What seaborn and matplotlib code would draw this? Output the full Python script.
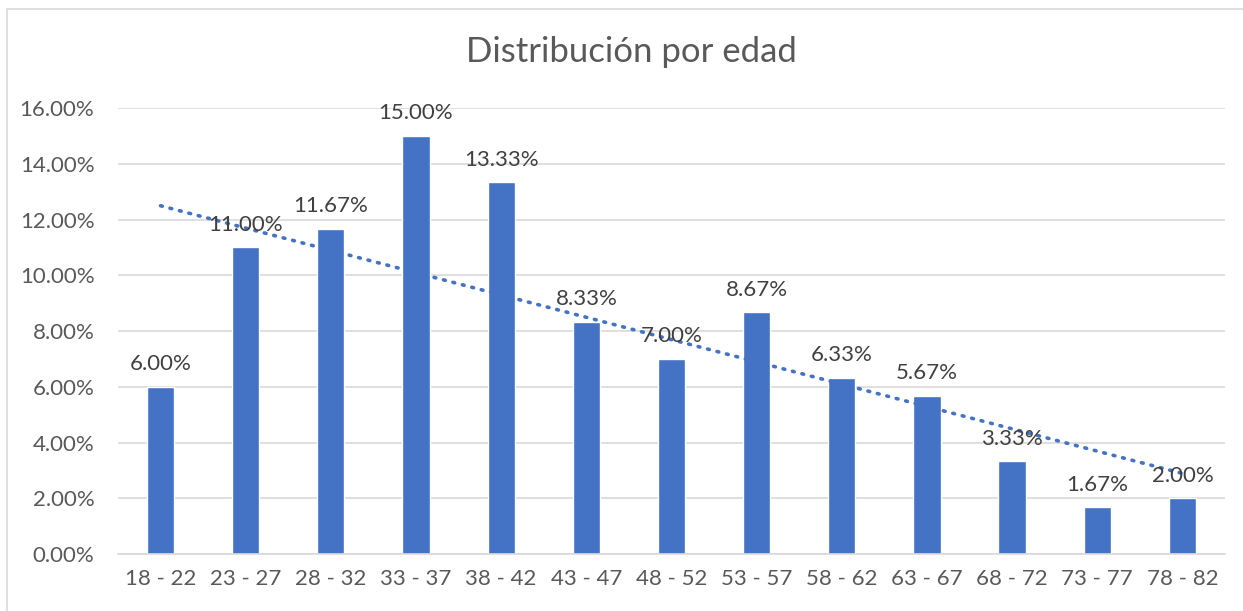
import numpy as np
import pandas as pd
import matplotlib
matplotlib.use('Agg')
import matplotlib.pyplot as plt
import seaborn as sns
from matplotlib.ticker import PercentFormatter
from matplotlib.patches import Rectangle

# 数据
age_groups = ['18 - 22', '23 - 27', '28 - 32', '33 - 37', '38 - 42', '43 - 47', '48 - 52',
              '53 - 57', '58 - 62', '63 - 67', '68 - 72', '73 - 77', '78 - 82']
percentages = [6.00, 11.00, 11.67, 15.00, 13.33, 8.33, 7.00, 8.67, 6.33, 5.67, 3.33, 1.67, 2.00]
y_ticks = [0, 2, 4, 6, 8, 10, 12, 14, 16]

bar_color = '#4472C4'
text_gray = '#595959'

sns.set_theme(style='white')
plt.rcParams['font.family'] = ['Lato', 'DejaVu Sans']

df = pd.DataFrame({'edad': age_groups, 'pct': percentages})

fig = plt.figure(figsize=(12.43, 6.11), dpi=100)
ax = fig.add_axes([0.0949, 0.0933, 0.8906, 0.7299])

sns.barplot(data=df, x='edad', y='pct', color=bar_color, width=0.32,
            saturation=1, ax=ax, zorder=2)

# 数据标签
for i, v in enumerate(percentages):
    ax.annotate(f'{v:.2f}%', (i, v), xytext=(0, 9), textcoords='offset points',
                ha='center', va='bottom', fontsize=16, color='#404040', zorder=4)

# 线性趋势线
x_idx = np.arange(len(percentages))
slope, intercept = np.polyfit(x_idx, percentages, 1)
ax.plot(x_idx, slope * x_idx + intercept, linestyle=(0, (0.5, 2.2)), color=bar_color,
        linewidth=2.6, dash_capstyle='round', zorder=3)

ax.set_xlim(-0.5, len(age_groups) - 0.5)
ax.set_ylim(0, 16)
ax.set_yticks(y_ticks)
ax.yaxis.set_major_formatter(PercentFormatter(decimals=2))
ax.grid(axis='y', color='#D9D9D9', linewidth=1.2, zorder=0)
ax.set_axisbelow(True)
for s in ['top', 'right', 'left']:
    ax.spines[s].set_visible(False)
ax.spines['bottom'].set_color('#D9D9D9')
ax.spines['bottom'].set_linewidth(1.2)
ax.tick_params(axis='both', length=0, labelsize=16, colors=text_gray)
ax.tick_params(axis='x', pad=11)
ax.tick_params(axis='y', pad=17)
ax.set_xlabel('')
ax.set_ylabel('')

fig.text(0.508, 0.915, 'Distribución por edad', ha='center', va='center',
         fontsize=25, color=text_gray)

# 外框
fig.patches.append(Rectangle((7 / 1243, -0.1), 1.2, 0.1 + (611 - 9) / 611,
                             transform=fig.transFigure, fill=False,
                             edgecolor='#D9D9D9', linewidth=1.2))

plt.savefig('out.png', dpi=100)
plt.close()
